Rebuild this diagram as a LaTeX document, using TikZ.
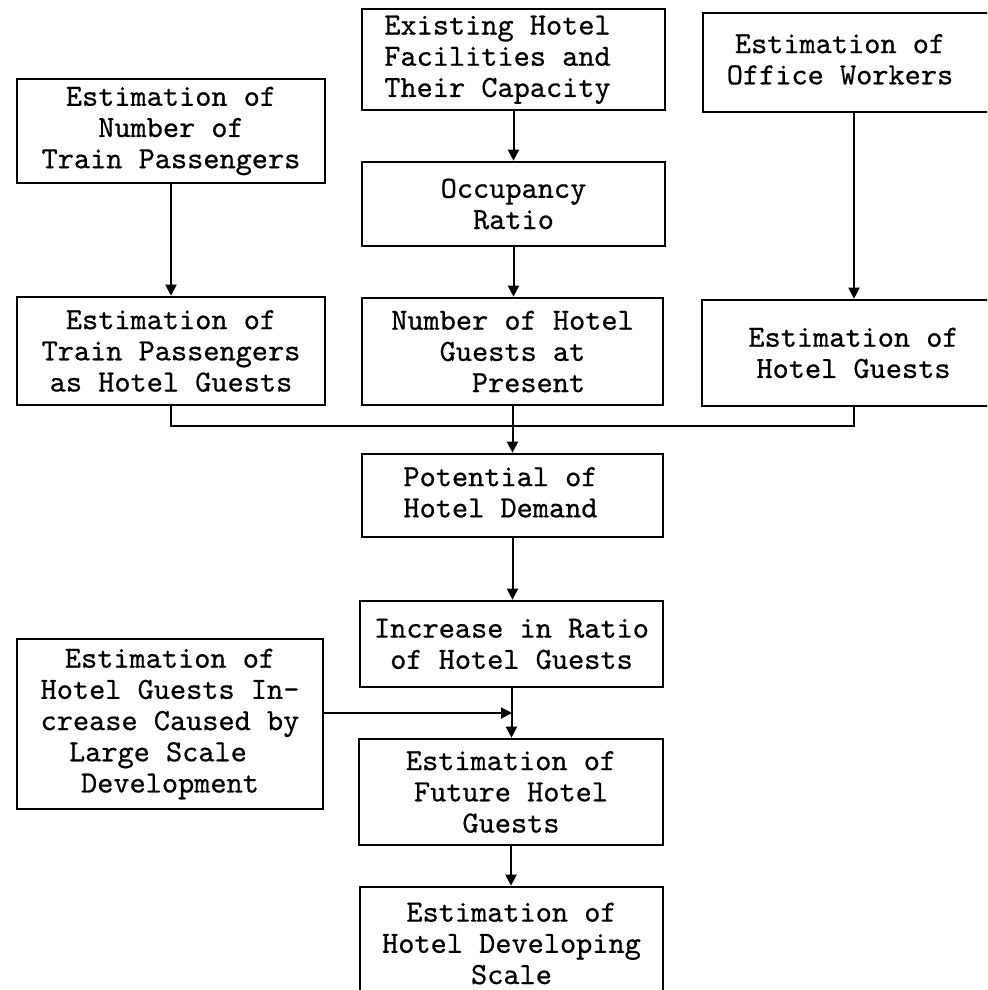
\documentclass[tikz,border=0pt]{standalone}
\usepackage{fontspec}
\usetikzlibrary{arrows.meta}
% typewriter face, slightly emboldened to resemble a ribbon print
\newfontfamily\tw{lmmono10-regular}[Extension=.otf, FakeBold=0.6]
% a centred block of lines, used where the block sits off-centre in its box
\newcommand\lineblock[1]{\begin{tabular}{@{}c@{}}#1\end{tabular}}
\begin{document}
\begin{tikzpicture}[x=0.5pt, y=-0.5pt,
  box/.style={draw, line width=1.3pt, rectangle, inner sep=0pt, align=center,
    font=\tw\fontsize{15.4}{15.6}\selectfont},
  arr/.style={line width=1pt, -{Triangle[length=5.5pt, width=5.5pt]}},
  conn/.style={line width=1pt}]
\useasboundingbox (0,0) rectangle (987,990);
\clip (0,0) rectangle (987,990);

% top row
\node[box, minimum width=151.5pt, minimum height=50.5pt] (exist) at (513.5,59.5)
  {\lineblock{Existing Hotel\\Facilities and\\Their Capacity}\hspace*{16pt}};
\node[box, minimum width=151pt, minimum height=49.5pt] (office) at (854,62.5)
  {\lineblock{Estimation of\\Office Workers}\hspace*{14pt}};
\node[box, minimum width=154pt, minimum height=52pt] (train) at (171,131)
  {Estimation of\\Number of\\Train Passengers};
\node[box, minimum width=151.5pt, minimum height=42pt] (occ) at (513.5,204)
  {Occupancy\\Ratio};

% second row
\node[box, minimum width=154pt, minimum height=54pt] (tguest) at (171,351)
  {Estimation of\\Train Passengers\\as Hotel Guests};
\node[box, minimum width=150.5pt, minimum height=53.5pt] (number) at (512.5,351.5)
  {Number of Hotel\\Guests at\\\hspace*{16pt}Present};
\node[box, minimum width=151.5pt, minimum height=53pt] (hguest) at (853.5,353)
  {Estimation of\\Hotel Guests};

% central chain
\node[box, minimum width=150.5pt, minimum height=41.5pt] (potential) at (512.5,495.5)
  {\lineblock{Potential of\\Hotel Demand}\hspace*{12pt}};
\node[box, minimum width=151.5pt, minimum height=43pt] (increase) at (511.5,644)
  {Increase in Ratio\\of Hotel Guests};
\node[box, minimum width=153pt, minimum height=85pt] (large) at (170,724)
  {Estimation of\\Hotel Guests In-\\crease Caused by\\Large Scale\rule{12pt}{0pt}\\Development};
\node[box, minimum width=152pt, minimum height=53pt] (future) at (511,792)
  {Estimation of\\Future Hotel\\Guests};
\node[box, minimum width=151.5pt, minimum height=56.5pt] (develop) at (511.5,943.5)
  {Estimation of\\Hotel Developing\\Scale};

% junction points
\coordinate (bus) at (513,426);
\coordinate (side) at (512,713);

% connectors
\draw[arr] (exist.south) -- (exist.south |- occ.north);
\draw[arr] (occ.south) -- (occ.south |- number.north);
\draw[arr] (train.south) -- (train.south |- tguest.north);
\draw[arr] (office.south) -- (office.south |- hguest.north);
\draw[conn] (tguest.south) |- (hguest.south |- bus) -- (hguest.south);
\draw[arr] (number.south) -- (number.south |- potential.north);
\draw[arr] (potential.south) -- (potential.south |- increase.north);
\draw[arr] (increase.south) -- (increase.south |- future.north);
\draw[arr] (large.east |- side) -- (side);
\draw[arr] (future.south) -- (future.south |- develop.north);
\end{tikzpicture}
\end{document}
